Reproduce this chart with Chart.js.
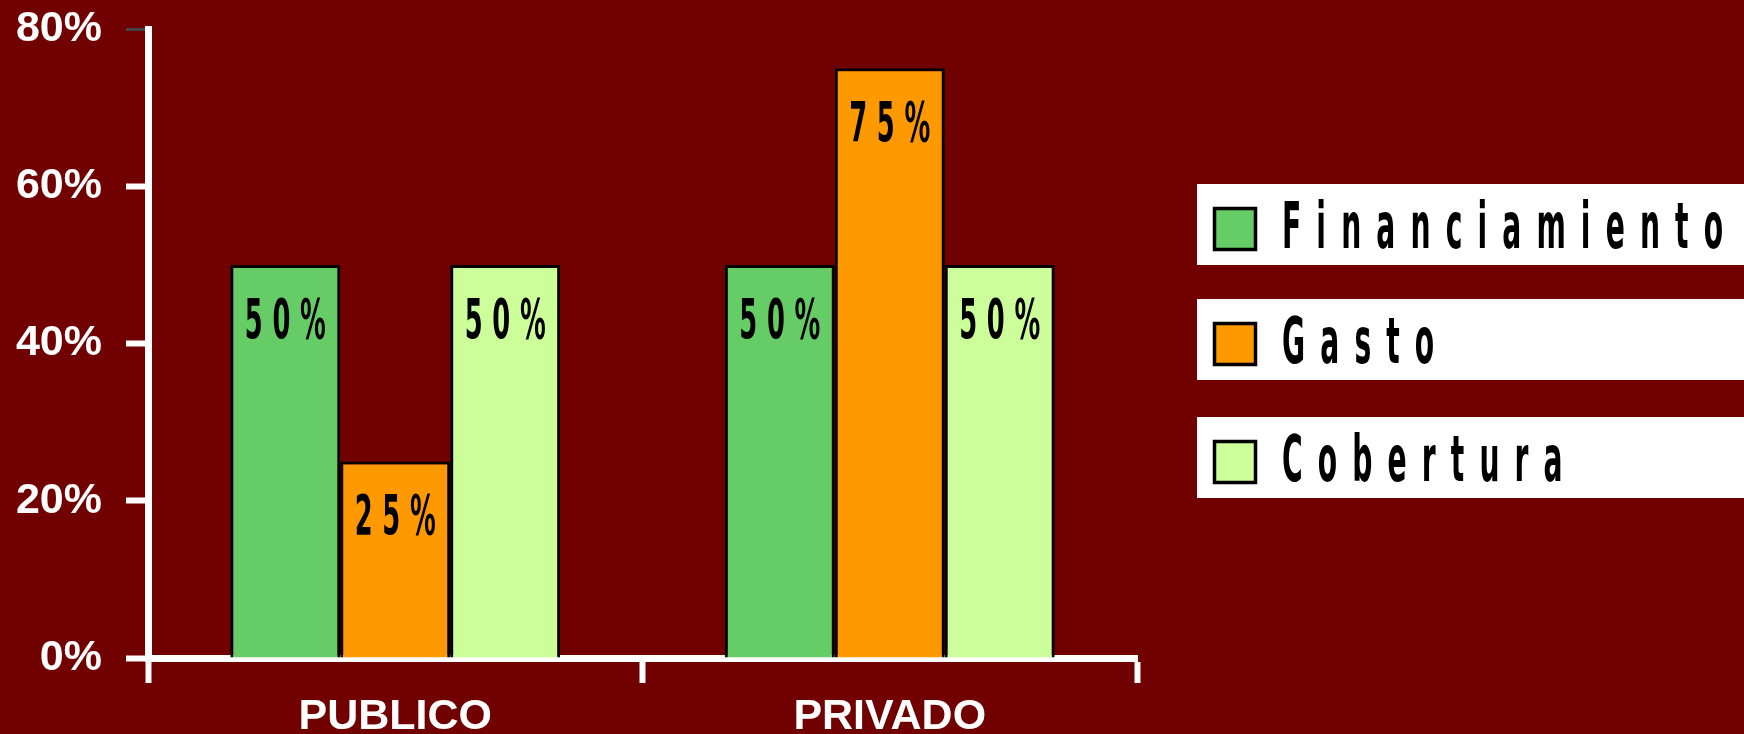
<!DOCTYPE html>
<html>
<head>
<meta charset="utf-8">
<script src="https://cdn.jsdelivr.net/npm/chart.js@4/dist/chart.umd.min.js"></script>
<style>
  html, body { margin: 0; padding: 0; background: #710000; overflow: hidden; }
  canvas { display: block; }
</style>
</head>
<body>
<canvas id="c" width="1744" height="734"></canvas>
<script>
const categories = ['PUBLICO', 'PRIVADO'];
const seriesNames = ['Financiamiento', 'Gasto', 'Cobertura'];
const financiamiento = [50, 50];
const gasto = [25, 75];
const cobertura = [50, 50];
const yTicks = [0, 20, 40, 60, 80];
const seriesColors = ['#66CC66', '#FF9900', '#CCFF99'];

function drawSpaced(ctx, text, x, y, font, sx, spacing, align) {
  ctx.save();
  ctx.font = font;
  ctx.translate(x, y);
  ctx.scale(sx, 1);
  ctx.letterSpacing = '0px';
  const natural = ctx.measureText(text).width;
  const w = natural + spacing * (text.length - 1);
  ctx.letterSpacing = spacing + 'px';
  ctx.textAlign = 'left';
  ctx.textBaseline = 'alphabetic';
  ctx.fillStyle = '#000';
  ctx.fillText(text, align === 'center' ? -w / 2 : 0, 0);
  ctx.restore();
}
function spacingFor(ctx, text, font, sx, target) {
  ctx.save();
  ctx.font = font;
  ctx.letterSpacing = '0px';
  const natural = ctx.measureText(text).width;
  ctx.restore();
  return (target / sx - natural) / (text.length - 1);
}

const barLabels = {
  id: 'barLabels',
  afterDatasetsDraw(chart) {
    const ctx = chart.ctx;
    const font = 'bold 56px "DejaVu Sans"';
    const sx = 0.46;
    const sp = spacingFor(ctx, '50%', font, sx, 81);
    chart.data.datasets.forEach((ds, i) => {
      const meta = chart.getDatasetMeta(i);
      meta.data.forEach((bar, j) => {
        drawSpaced(ctx, ds.data[j] + '%', bar.x, bar.y + 73, font, sx, sp, 'center');
      });
    });
  }
};

const boxLegend = {
  id: 'boxLegend',
  afterDraw(chart) {
    const ctx = chart.ctx;
    const font = 'bold 64px "DejaVu Sans"';
    const sx = 0.44;
    const sp = spacingFor(ctx, seriesNames[0], font, sx, 441);
    const tops = [184, 299, 417];
    chart.data.datasets.forEach((ds, i) => {
      const top = tops[i];
      ctx.save();
      ctx.fillStyle = '#FFFFFF';
      ctx.fillRect(1197, top, 1744 - 1197, 81);
      ctx.fillStyle = ds.backgroundColor;
      ctx.fillRect(1213, top + 23, 44, 44);
      ctx.lineWidth = 3.5;
      ctx.strokeStyle = '#000';
      ctx.strokeRect(1214.5, top + 24.5, 41, 41);
      ctx.restore();
      drawSpaced(ctx, ds.label, 1282, top + 64, font, sx, sp, 'left');
    });
  }
};

const tickFont = { family: '"Liberation Sans", Arial, sans-serif', size: 43, weight: 'bold' };

new Chart(document.getElementById('c'), {
  type: 'bar',
  data: {
    labels: categories,
    datasets: [
      { label: seriesNames[0], data: financiamiento, backgroundColor: seriesColors[0] },
      { label: seriesNames[1], data: gasto, backgroundColor: seriesColors[1] },
      { label: seriesNames[2], data: cobertura, backgroundColor: seriesColors[2] }
    ].map(d => Object.assign(d, {
      borderColor: '#000', borderWidth: 3, borderSkipped: 'start',
      barPercentage: 1, categoryPercentage: 0.667
    }))
  },
  options: {
    responsive: false,
    animation: false,
    devicePixelRatio: 1,
    layout: { padding: { top: 29, right: 607, left: 0, bottom: 0 } },
    plugins: { legend: { display: false }, title: { display: false }, tooltip: { enabled: false } },
    scales: {
      x: {
        offset: true,
        grid: { offset: true, drawOnChartArea: false, drawTicks: true, tickLength: 25, tickWidth: 6, tickColor: '#FFFFFF' },
        border: { display: true, color: '#FFFFFF', width: 7 },
        ticks: { color: '#FFFFFF', font: tickFont, padding: 8, maxRotation: 0 },
        afterFit(s) { s.height = 76; s.paddingLeft = 0; s.paddingRight = 0; }
      },
      y: {
        min: 0, max: 80,
        afterBuildTicks(s) { s.ticks = yTicks.map(v => ({ value: v })); },
        grid: {
          drawOnChartArea: false, drawTicks: true, tickLength: 22,
          tickWidth: (c) => (c.tick && c.tick.value === 80 ? 3 : 6),
          tickColor: (c) => (c.tick && c.tick.value === 80 ? '#444444' : '#FFFFFF')
        },
        border: { display: true, color: '#FFFFFF', width: 7 },
        ticks: { color: '#FFFFFF', font: tickFont, padding: 24, callback: (v) => v + '%' },
        afterFit(s) { s.width = 148; s.paddingTop = 0; s.paddingBottom = 0; }
      }
    }
  },
  plugins: [barLabels, boxLegend]
});
</script>
</body>
</html>
